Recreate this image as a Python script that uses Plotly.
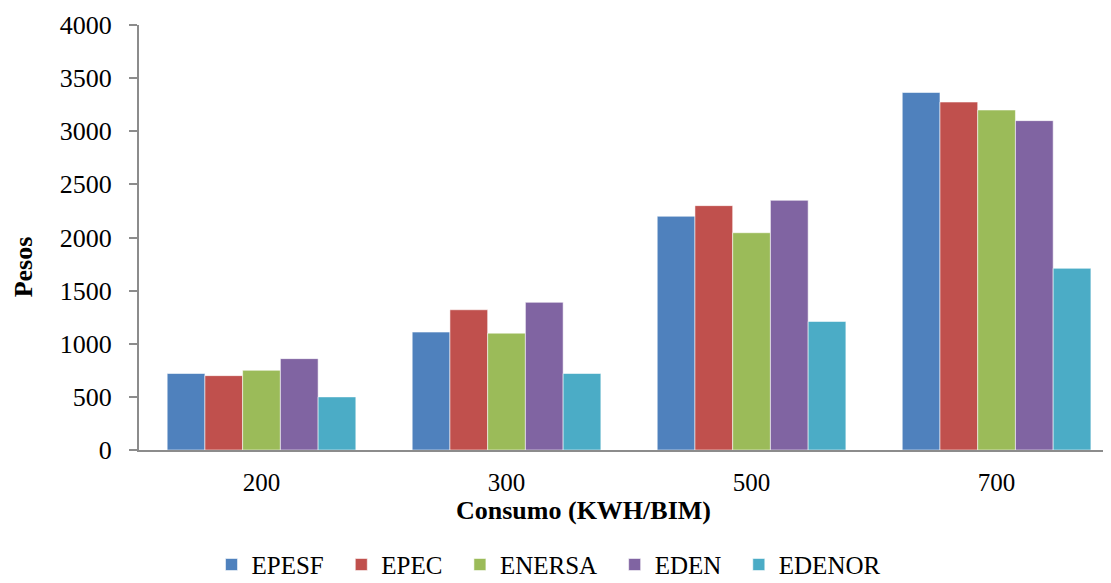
import plotly.graph_objects as go

categories = ["200", "300", "500", "700"]
series_names = ["EPESF", "EPEC", "ENERSA", "EDEN", "EDENOR"]
epesf = [720, 1110, 2200, 3365]
epec = [700, 1320, 2300, 3275]
enersa = [750, 1100, 2045, 3200]
eden = [860, 1390, 2350, 3100]
edenor = [500, 720, 1210, 1710]
colors = ["#4F81BD", "#C0504D", "#9BBB59", "#8064A2", "#4BACC6"]
y_ticks = [0, 500, 1000, 1500, 2000, 2500, 3000, 3500, 4000]

font_family = "Liberation Serif"
values = [epesf, epec, enersa, eden, edenor]

fig = go.Figure()
for name, vals, col in zip(series_names, values, colors):
    fig.add_trace(go.Bar(
        x=categories, y=vals, name=name + "\u00a0\u00a0",
        marker=dict(color=col, line=dict(color="rgba(255,255,255,0.55)", width=1)),
    ))

# page body has an 8px margin, so the figure is sized 8px smaller and offset accordingly
fig.update_layout(
    width=1103, height=575,
    margin=dict(l=131, r=0, t=17, b=133, autoexpand=False),
    paper_bgcolor="white", plot_bgcolor="white",
    barmode="group", bargap=0.23, bargroupgap=0,
    font=dict(family=font_family, size=25, color="black"),
    showlegend=True,
    legend=dict(orientation="h", x=0.428, xanchor="center", y=-0.27, yanchor="middle",
                font=dict(family=font_family, size=25), itemwidth=30, traceorder="normal"),
    xaxis=dict(
        type="category", range=[-0.5, 3.467],
        showline=True, linecolor="#8C8C8C", linewidth=2,
        ticks="", showgrid=False, zeroline=False,
        tickfont=dict(family=font_family, size=25),
        ticklabelstandoff=9,
    ),
    yaxis=dict(
        range=[0, 4000], tickvals=y_ticks,
        showline=True, linecolor="#8C8C8C", linewidth=2,
        ticks="outside", ticklen=8, tickcolor="#8C8C8C", tickwidth=2,
        showgrid=False, zeroline=False,
        tickfont=dict(family=font_family, size=26),
        ticklabelstandoff=12,
    ),
    annotations=[
        dict(text="<b>Consumo (KWH/BIM)</b>", xref="paper", yref="paper",
             x=0.457, y=-0.143, xanchor="center", yanchor="middle", showarrow=False,
             font=dict(family=font_family, size=26)),
        dict(text="<b>Pesos</b>", xref="paper", yref="paper",
             x=-0.118, y=0.4306, xanchor="center", yanchor="middle", showarrow=False,
             textangle=-90, font=dict(family=font_family, size=26)),
    ],
)

fig.write_html("out.html")
